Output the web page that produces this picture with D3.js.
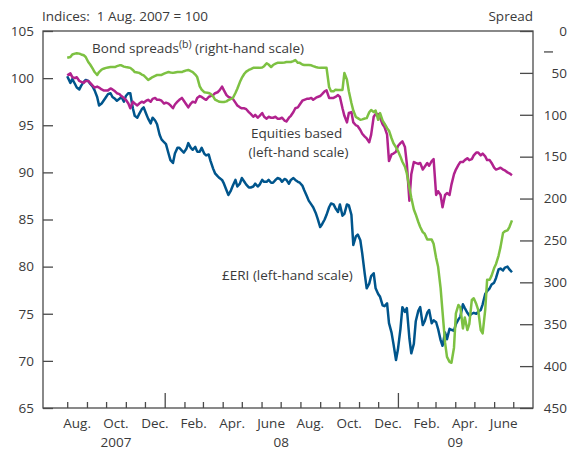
<!DOCTYPE html>
<html>
<head>
<meta charset="utf-8">
<script src="https://cdn.jsdelivr.net/npm/d3@7"></script>
<style>
  body { margin: 0; background: #fff; }
  text { font-family: "Open Sans", sans-serif; fill: #3a3a3a; }
</style>
</head>
<body>
<svg id="chart" width="571" height="450"></svg>
<script>
// twice-weekly observations (Mon. and Thu.), 1 Aug. 2007 to end June 2009
const obsDates = [
  "2007-08-01","2007-08-06","2007-08-09","2007-08-13","2007-08-16","2007-08-20","2007-08-23","2007-08-27","2007-08-30",
  "2007-09-03","2007-09-06","2007-09-10","2007-09-13","2007-09-17","2007-09-20","2007-09-24","2007-09-27",
  "2007-10-01","2007-10-04","2007-10-08","2007-10-11","2007-10-15","2007-10-18","2007-10-22","2007-10-25","2007-10-29",
  "2007-11-01","2007-11-05","2007-11-08","2007-11-12","2007-11-15","2007-11-19","2007-11-22","2007-11-26","2007-11-29",
  "2007-12-03","2007-12-06","2007-12-10","2007-12-13","2007-12-17","2007-12-20","2007-12-24","2007-12-27","2007-12-31",
  "2008-01-03","2008-01-07","2008-01-10","2008-01-14","2008-01-17","2008-01-21","2008-01-24","2008-01-28","2008-01-31",
  "2008-02-04","2008-02-07","2008-02-11","2008-02-14","2008-02-18","2008-02-21","2008-02-25","2008-02-28",
  "2008-03-03","2008-03-06","2008-03-10","2008-03-13","2008-03-17","2008-03-20","2008-03-24","2008-03-27","2008-03-31",
  "2008-04-03","2008-04-07","2008-04-10","2008-04-14","2008-04-17","2008-04-21","2008-04-24","2008-04-28",
  "2008-05-01","2008-05-05","2008-05-08","2008-05-12","2008-05-15","2008-05-19","2008-05-22","2008-05-26","2008-05-29",
  "2008-06-02","2008-06-05","2008-06-09","2008-06-12","2008-06-16","2008-06-19","2008-06-23","2008-06-26","2008-06-30",
  "2008-07-03","2008-07-07","2008-07-10","2008-07-14","2008-07-17","2008-07-21","2008-07-24","2008-07-28","2008-07-31",
  "2008-08-04","2008-08-07","2008-08-11","2008-08-14","2008-08-18","2008-08-21","2008-08-25","2008-08-28",
  "2008-09-01","2008-09-04","2008-09-08","2008-09-11","2008-09-15","2008-09-18","2008-09-22","2008-09-25","2008-09-29",
  "2008-10-02","2008-10-06","2008-10-09","2008-10-13","2008-10-16","2008-10-20","2008-10-23","2008-10-27","2008-10-30",
  "2008-11-03","2008-11-06","2008-11-10","2008-11-13","2008-11-17","2008-11-20","2008-11-24","2008-11-27",
  "2008-12-01","2008-12-04","2008-12-08","2008-12-11","2008-12-15","2008-12-18","2008-12-22","2008-12-25","2008-12-29",
  "2009-01-01","2009-01-05","2009-01-08","2009-01-12","2009-01-15","2009-01-19","2009-01-22","2009-01-26","2009-01-29",
  "2009-02-02","2009-02-05","2009-02-09","2009-02-12","2009-02-16","2009-02-19","2009-02-23","2009-02-26",
  "2009-03-02","2009-03-05","2009-03-09","2009-03-12","2009-03-16","2009-03-19","2009-03-23","2009-03-26","2009-03-30",
  "2009-04-02","2009-04-06","2009-04-09","2009-04-13","2009-04-16","2009-04-20","2009-04-23","2009-04-27","2009-04-30",
  "2009-05-04","2009-05-07","2009-05-11","2009-05-14","2009-05-18","2009-05-21","2009-05-25","2009-05-28",
  "2009-06-01","2009-06-04","2009-06-08","2009-06-11","2009-06-15","2009-06-18","2009-06-22","2009-06-25","2009-06-29"
]

// £ERI, index (left-hand scale)
const eri = [
  100.2,99.5,99.9,99.4,99.0,98.8,99.2,99.6,99.8,
  99.7,99.4,99.1,98.7,98.0,97.1,97.3,97.6,
  98.0,98.3,98.4,98.0,97.8,97.6,97.8,98.0,97.5,
  98.1,98.4,98.4,96.8,96.0,95.8,96.2,96.7,96.9,
  96.2,95.7,95.2,95.8,95.5,95.1,94.0,93.5,93.2,
  93.0,92.0,91.3,91.0,92.0,92.6,92.6,92.3,92.1,
  92.5,93.1,92.6,92.4,92.7,92.2,92.2,92.6,
  92.0,91.8,91.9,91.2,90.4,89.9,89.6,89.4,89.2,
  88.8,88.1,87.6,88.1,88.6,89.2,88.5,88.8,
  89.4,89.0,88.7,88.4,88.4,88.5,88.8,88.5,88.7,
  89.2,89.0,89.0,89.2,88.9,88.9,89.2,89.4,89.3,
  89.0,89.3,89.2,88.8,89.2,89.4,89.2,89.0,88.9,
  88.6,88.1,87.5,87.0,86.6,86.3,85.7,85.1,
  84.2,84.5,85.0,85.5,86.3,86.7,86.6,86.2,85.8,
  86.6,85.4,85.6,86.6,86.5,85.5,82.3,83.2,83.4,
  82.8,81.4,79.2,77.7,78.2,79.0,79.3,77.7,
  77.1,76.8,75.9,75.8,76.1,74.0,73.0,71.8,70.1,
  71.2,73.4,75.7,75.2,75.6,72.4,70.8,71.8,74.2,
  75.3,75.7,73.8,74.2,75.1,75.4,74.0,74.3,
  74.1,73.4,72.2,71.6,73.0,72.3,73.4,73.3,73.2,
  73.9,74.4,74.7,76.0,75.6,75.1,74.8,75.0,75.1,
  75.0,75.2,75.4,76.0,77.1,77.4,77.7,78.1,
  78.3,78.8,79.7,79.8,79.6,79.9,80.0,79.7,79.4
]

// equities based index (left-hand scale)
const equities = [
  100.3,100.5,100.1,100.0,100.1,99.7,99.6,99.5,99.7,
  99.7,99.5,99.2,99.0,99.1,99.0,98.8,98.7,
  98.7,98.7,98.9,98.8,98.6,98.4,98.3,98.1,97.9,
  97.7,97.3,96.8,97.5,97.3,97.1,97.3,97.5,97.4,
  97.6,97.7,97.5,97.8,97.9,97.7,97.7,97.6,97.3,
  97.4,97.3,97.1,96.8,97.2,97.5,97.7,97.9,97.6,
  97.2,96.9,97.3,97.5,97.4,97.9,98.1,98.0,
  97.8,97.7,98.0,98.1,98.2,98.4,98.5,98.7,99.1,
  98.7,98.2,98.0,97.9,97.8,97.4,97.1,96.9,
  96.8,96.8,96.7,96.4,96.2,95.9,96.1,95.8,96.0,
  96.3,95.9,95.7,95.9,95.8,95.8,95.9,95.7,95.7,
  95.8,95.5,95.4,95.8,96.0,96.4,96.8,96.9,97.2,
  97.6,97.7,97.8,97.8,97.9,97.7,97.9,98.0,
  98.1,98.3,98.6,98.7,97.9,97.9,97.9,98.0,98.2,
  98.0,96.8,96.0,95.3,96.3,96.4,95.3,95.0,94.9,
  94.5,94.1,93.8,93.6,93.2,94.0,95.9,96.2,
  96.2,95.8,95.1,94.8,94.0,91.2,91.9,92.0,92.2,
  92.8,93.1,93.3,92.7,90.9,87.0,89.8,91.1,91.0,
  90.9,91.0,90.3,90.6,91.0,90.7,91.2,91.4,
  87.6,88.0,87.6,86.3,87.6,87.8,87.6,88.7,89.8,
  90.3,90.8,91.1,91.1,91.3,91.5,91.3,91.4,91.8,
  92.1,92.1,91.8,92.0,91.7,91.3,91.3,91.0,
  90.5,90.3,90.4,90.5,90.3,90.2,90.0,89.9,89.7
]

// bond spreads, basis points (right-hand scale, inverted)
const spreads = [
  32,31,28,27,26.5,27,28,29,31,
  37,40,45,49,52.5,49,46,45,
  44,43.5,43,43,43,42,41,41,42.5,
  43,43.5,44,46.5,49,49.5,50,52,53,
  56,58.5,56.5,55,53.5,52.5,52.5,52.5,51,
  50,49,49.5,50,49.5,49,49,49,48,
  47,46.5,48,49,52,55,66,70,
  73,73.5,74,75,78,82,83.5,84.5,84.7,
  84.7,84,82.4,81,80,74,69,61,
  56,51,48.5,46.5,45.5,44,44,44,44,
  43.5,42,38.5,40,43,40.6,39,38,38,
  38,37.5,37,37,37,36,34.6,38,38,
  40,40.6,40.6,40.6,41,42,43,43.5,
  44,44,44,44,66.8,72,72,70,70.4,
  70.4,70.4,50,58,72,86,95,102.6,104,
  106,105.5,104.5,104,97,94.3,96.7,95,
  106,98,107,110.5,116,119,128,134,139,
  143,150,156,162,170,187,199,213,219,
  228,234,240,242,249,249,249,254,
  271,281,307,335,372,389,395,396,378,
  337,327,330,355,342,357,350,321,319,
  326,333,357,361,333,297,297,292,
  283,278,268,258,241,239,238,234,226
]

const leftTicks = [65, 70, 75, 80, 85, 90, 95, 100, 105]
const rightTicks = [0, 50, 100, 150, 200, 250, 300, 350, 400, 450]
const monthLabels = ["Aug.", "Oct.", "Dec.", "Feb.", "Apr.", "June"]
const yearLabels = [
  { text: "2007", from: "2007-08-01", to: "2008-01-01" },
  { text: "08", from: "2008-01-01", to: "2009-01-01" },
  { text: "09", from: "2009-01-01", to: "2009-06-30" }
]

const parse = d3.timeParse("%Y-%m-%d")
const dates = obsDates.map(parse)

const svg = d3.select("#chart")
const plot = { left: 43, right: 533, top: 31, bottom: 408 }

const x = d3.scaleTime().domain([parse("2007-06-24"), parse("2009-08-01")]).range([plot.left, plot.right])
const yL = d3.scaleLinear().domain([65, 105]).range([plot.bottom, plot.top])
const yR = d3.scaleLinear().domain([0, 450]).range([plot.top, plot.bottom])

const axisColor = "#4a4a4a"
const fontSize = "13.5px"

// frame
svg.append("rect")
  .attr("x", plot.left).attr("y", plot.top)
  .attr("width", plot.right - plot.left).attr("height", plot.bottom - plot.top)
  .attr("fill", "none").attr("stroke", axisColor).attr("stroke-width", 1.3)

// left axis
const gL = svg.append("g").attr("transform", `translate(${plot.left},0)`)
  .call(d3.axisLeft(yL).tickValues(leftTicks).tickSize(-10).tickPadding(9))
gL.select(".domain").remove()
gL.selectAll("line").attr("stroke", axisColor).attr("stroke-width", 1.3)
gL.selectAll("text").style("font-size", fontSize).style("font-family", "Open Sans").attr("fill", "#3a3a3a")

// right axis (inverted)
const gR = svg.append("g").attr("transform", `translate(${plot.right},0)`)
  .call(d3.axisRight(yR).tickValues(rightTicks).tickSize(-13).tickPadding(0))
gR.select(".domain").remove()
gR.selectAll("line").attr("stroke", axisColor).attr("stroke-width", 1.3)
gR.selectAll("text").attr("x", 34).attr("text-anchor", "end")
  .style("font-size", fontSize).style("font-family", "Open Sans").attr("fill", "#3a3a3a")
gR.append("line")
  .attr("x1", 11).attr("x2", 20).attr("y1", yR(25)).attr("y2", yR(25))
  .attr("stroke", "#3a3a3a").attr("stroke-width", 1.2)

// bottom axis: monthly ticks, longer at year ends
const months = d3.timeMonth.range(parse("2007-08-01"), parse("2009-08-01"))
const gB = svg.append("g").attr("transform", `translate(0,${plot.bottom})`)
  .call(d3.axisBottom(x).tickValues(months).tickSize(-6).tickFormat(""))
gB.select(".domain").remove()
gB.selectAll(".tick line")
  .attr("stroke", axisColor).attr("stroke-width", 1.3)
  .attr("y2", d => d.getMonth() === 0 ? -15 : -6)

const labelled = months.filter((d, i) => i % 2 === 0)
svg.append("g").selectAll("text")
  .data(labelled)
  .join("text")
  .attr("x", d => (x(d) + x(d3.timeMonth.offset(d, 1))) / 2)
  .attr("y", 428)
  .attr("text-anchor", "middle")
  .style("font-size", fontSize)
  .text((d, i) => monthLabels[i % monthLabels.length])

svg.append("g").selectAll("text")
  .data(yearLabels)
  .join("text")
  .attr("x", d => (x(parse(d.from)) + x(parse(d.to))) / 2)
  .attr("y", 447)
  .attr("text-anchor", "middle")
  .style("font-size", fontSize)
  .text(d => d.text)

// axis titles
svg.append("text").attr("x", plot.left - 1).attr("y", 21).style("font-size", fontSize)
  .text("Indices:\u00a0\u00a01 Aug. 2007 = 100")
svg.append("text").attr("x", plot.right).attr("y", 21).attr("text-anchor", "end").style("font-size", fontSize)
  .text("Spread")

// series
const series = [
  { values: eri, scale: yL, color: "#00558c" },
  { values: equities, scale: yL, color: "#b1228e" },
  { values: spreads, scale: yR, color: "#7dc142" }
]
series.forEach(s => {
  const line = d3.line()
    .x((d, i) => x(dates[i]))
    .y(d => s.scale(d))
  svg.append("path")
    .datum(s.values)
    .attr("fill", "none")
    .attr("stroke", s.color)
    .attr("stroke-width", 2.5)
    .attr("stroke-linejoin", "round")
    .attr("d", line)
})

// series labels, anchored in data space
const bond = svg.append("text")
  .attr("x", x(parse("2007-09-09"))).attr("y", yL(102.67))
  .style("font-size", fontSize)
bond.append("tspan").text("Bond spreads")
bond.append("tspan").attr("dy", -5).style("font-size", "10.5px").text("(b)")
bond.append("tspan").attr("dy", 5).text(" (right-hand scale)")

svg.append("text")
  .attr("x", x(parse("2008-07-26"))).attr("y", yL(93.65))
  .attr("text-anchor", "middle").style("font-size", fontSize)
  .text("Equities based")
svg.append("text")
  .attr("x", x(parse("2008-07-29"))).attr("y", yL(91.63))
  .attr("text-anchor", "middle").style("font-size", fontSize)
  .text("(left-hand scale)")
svg.append("text")
  .attr("x", x(parse("2008-03-31"))).attr("y", yL(78.58))
  .style("font-size", fontSize)
  .text("£ERI (left-hand scale)")
</script>
</body>
</html>
